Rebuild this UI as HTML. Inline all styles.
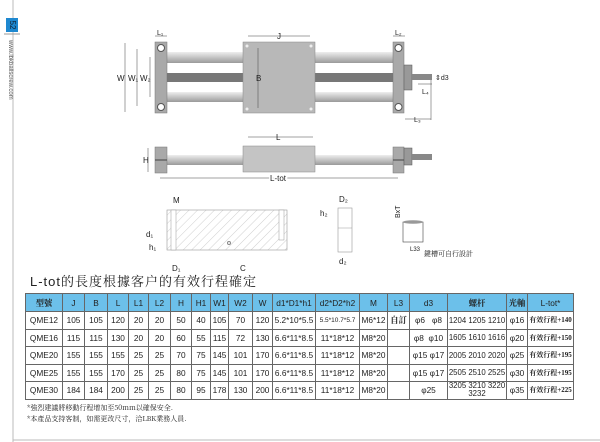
<!DOCTYPE html>
<html><head><meta charset="utf-8"><style>
body{margin:0;width:600px;height:442px;background:#fff;position:relative;overflow:hidden;font-family:"Liberation Sans","Noto Sans CJK TC",sans-serif}
table{position:absolute;left:25px;top:293px;border-collapse:collapse;table-layout:fixed;width:548px;font-size:8.3px;color:#222}
td,th{border:1px solid #666;text-align:center;padding:0;white-space:nowrap;overflow:hidden}
th{background:#6cc0ea;height:17px;font-weight:normal}
td{height:16.5px}
.cn{font-family:"Liberation Serif","Noto Serif CJK SC",serif;font-weight:bold}
</style></head><body>
<svg width="600" height="442" style="position:absolute;left:0;top:0" font-family="Liberation Sans, sans-serif">
<defs>
<linearGradient id="rail" x1="0" y1="0" x2="0" y2="1"><stop offset="0" stop-color="#eeeeee"/><stop offset=".5" stop-color="#c4c4c4"/><stop offset="1" stop-color="#9a9a9a"/></linearGradient>
<pattern id="hat" width="6" height="6" patternUnits="userSpaceOnUse" patternTransform="rotate(45)"><line x1="0" y1="0" x2="0" y2="6" stroke="#bbb" stroke-width="0.7"/></pattern>
</defs>
<line x1="13" y1="0" x2="13" y2="442" stroke="#bbb"/>
<line x1="13" y1="440" x2="600" y2="440" stroke="#bbb"/>
<rect x="6" y="18" width="12" height="14" fill="#1e88d0"/>
<text x="12" y="25" font-size="8" fill="#123" text-anchor="middle" transform="rotate(90 12 25)" dominant-baseline="middle">52</text>
<line x1="4" y1="34" x2="20" y2="34" stroke="#999"/>
<text x="9" y="40" font-size="6" fill="#555" transform="rotate(90 9 40)">www.lbkballscrew.com</text>
<rect x="167" y="52" width="226" height="11" fill="url(#rail)"/>
<rect x="167" y="92" width="226" height="10" fill="url(#rail)"/>
<rect x="167" y="73" width="226" height="9" fill="#777"/>
<rect x="155" y="42" width="12" height="71" fill="#a9a9a9" stroke="#777" stroke-width=".5"/>
<rect x="393" y="42" width="11" height="71" fill="#a9a9a9" stroke="#777" stroke-width=".5"/>
<circle cx="161" cy="48" r="3.5" fill="#fff" stroke="#555"/><circle cx="161" cy="107" r="3.5" fill="#fff" stroke="#555"/>
<circle cx="398.5" cy="48" r="3.5" fill="#fff" stroke="#555"/><circle cx="398.5" cy="107" r="3.5" fill="#fff" stroke="#555"/>
<rect x="243" y="42" width="72" height="71" fill="#b8b8b8" stroke="#888" stroke-width=".5"/>
<circle cx="247" cy="46" r="1.5" fill="#eee"/><circle cx="311" cy="46" r="1.5" fill="#eee"/><circle cx="247" cy="109" r="1.5" fill="#eee"/><circle cx="311" cy="109" r="1.5" fill="#eee"/>
<rect x="404" y="65" width="8" height="25" fill="#999" stroke="#555" stroke-width=".5"/>
<rect x="412" y="74" width="20" height="6" fill="#888"/>
<g stroke="#444" stroke-width=".5" fill="none">
<line x1="125" y1="43" x2="125" y2="112"/><line x1="137" y1="49" x2="137" y2="106"/><line x1="150" y1="57" x2="150" y2="97"/>
<line x1="248" y1="36" x2="310" y2="36"/><line x1="258" y1="48" x2="258" y2="108"/>
<line x1="155" y1="36" x2="167" y2="36"/><line x1="393" y1="36" x2="405" y2="36"/>
<line x1="405" y1="119" x2="431" y2="119"/><line x1="431" y1="80" x2="431" y2="120"/>
<line x1="418" y1="84" x2="432" y2="84"/>
<line x1="248" y1="137" x2="313" y2="137"/>
<line x1="160" y1="178" x2="398" y2="178"/>
<line x1="148" y1="148" x2="148" y2="172"/>
</g>
<g font-size="8" fill="#222">
<text x="117" y="81">W</text><text x="128" y="81">W₁</text><text x="140" y="81">W₂</text>
<text x="277" y="39">J</text><text x="256" y="81">B</text>
<text x="157" y="35" font-size="7">L₁</text><text x="395" y="35" font-size="7">L₂</text>
<text x="435" y="80" font-size="7">⇕d3</text><text x="422" y="94" font-size="7">L₄</text><text x="414" y="122" font-size="7">L₃</text>
<text x="276" y="140">L</text><text x="270" y="181" style="paint-order:stroke" stroke="#fff" stroke-width="3">L-tot</text>
<text x="143" y="163">H</text>
</g>
<rect x="167" y="155" width="226" height="10" fill="url(#rail)"/>
<rect x="155" y="147" width="12" height="26" fill="#a9a9a9" stroke="#777" stroke-width=".5"/>
<line x1="155" y1="160" x2="167" y2="160" stroke="#444"/>
<rect x="393" y="147" width="11" height="26" fill="#a9a9a9" stroke="#777" stroke-width=".5"/>
<line x1="393" y1="160" x2="404" y2="160" stroke="#444"/>
<rect x="404" y="148" width="8" height="17" fill="#999" stroke="#555" stroke-width=".5"/>
<rect x="412" y="154" width="20" height="6" fill="#888"/>
<rect x="243" y="146" width="72" height="26" fill="#c4c4c4" stroke="#888" stroke-width=".5"/>
<rect x="167" y="210" width="120" height="40" fill="url(#hat)" stroke="#999" stroke-width=".6"/>
<rect x="171" y="210" width="5" height="40" fill="#fff" stroke="#999" stroke-width=".5"/>
<rect x="279" y="210" width="5" height="30" fill="#fff" stroke="#999" stroke-width=".5"/>
<circle cx="229" cy="243" r="1.5" fill="none" stroke="#888"/>
<rect x="338" y="208" width="14" height="44" fill="#fff" stroke="#999" stroke-width=".6"/>
<line x1="338" y1="228" x2="352" y2="228" stroke="#999" stroke-width=".5"/>
<rect x="403" y="222" width="20" height="20" fill="#fff" stroke="#444" stroke-width=".6"/>
<ellipse cx="413" cy="222" rx="10" ry="1.8" fill="#999"/>
<g font-size="8" fill="#222">
<text x="173" y="203">M</text><text x="146" y="237">d₁</text><text x="149" y="250">h₁</text><text x="172" y="271">D₁</text><text x="240" y="271">C</text>
<text x="339" y="202">D₂</text><text x="320" y="216">h₂</text><text x="339" y="264">d₂</text>
<text x="400" y="218" font-size="7" transform="rotate(-90 400 218)">BxT</text><text x="410" y="251" font-size="6">L33</text>
<text x="424" y="256" font-size="7" font-family="Noto Serif CJK SC, serif">鍵槽可自行設計</text>
</g>
<text x="30" y="286" font-size="13" fill="#222" font-family="Liberation Sans, Noto Serif CJK SC, serif" letter-spacing="1">L-tot的長度根據客户的有效行程確定</text>
<text x="27" y="410" font-size="7" fill="#222" font-family="Noto Serif CJK SC, serif">*強烈建議將移動行程增加至50mm以確保安全.</text>
<text x="27" y="421" font-size="7" fill="#222" font-family="Noto Serif CJK SC, serif">*本產品支持客制，如需更改尺寸，洽LBK業務人員.</text>
</svg>
<table>
<colgroup><col style="width:37px"><col style="width:22px"><col style="width:23px"><col style="width:21px"><col style="width:20px"><col style="width:22px"><col style="width:21px"><col style="width:19px"><col style="width:18px"><col style="width:24px"><col style="width:20px"><col style="width:43px"><col style="width:44px"><col style="width:28px"><col style="width:22px"><col style="width:38px"><col style="width:59px"><col style="width:21px"><col style="width:46px"></colgroup>
<tr><th class="cn">型號</th><th>J</th><th>B</th><th>L</th><th>L1</th><th>L2</th><th>H</th><th>H1</th><th>W1</th><th>W2</th><th>W</th><th>d1*D1*h1</th><th>d2*D2*h2</th><th>M</th><th>L3</th><th>d3</th><th class="cn">螺杆</th><th class="cn">光軸</th><th>L-tot*</th></tr>
<tr><td>QME12</td><td>105</td><td>105</td><td>120</td><td>20</td><td>20</td><td>50</td><td>40</td><td>105</td><td>70</td><td>120</td><td>5.2*10*5.5</td><td style="font-size:6.5px">5.5*10.7*5.7</td><td>M6*12</td><td class="cn">自訂</td><td>φ6 &nbsp; φ8</td><td style="font-size:7.8px">1204 1205 1210</td><td>φ16</td><td class="cn" style="font-size:7px">有效行程+140</td></tr>
<tr><td>QME16</td><td>115</td><td>115</td><td>130</td><td>20</td><td>20</td><td>60</td><td>55</td><td>115</td><td>72</td><td>130</td><td>6.6*11*8.5</td><td>11*18*12</td><td>M8*20</td><td></td><td>φ8 &nbsp;φ10</td><td style="font-size:7.8px">1605 1610 1616</td><td>φ20</td><td class="cn" style="font-size:7px">有效行程+150</td></tr>
<tr><td>QME20</td><td>155</td><td>155</td><td>155</td><td>25</td><td>25</td><td>70</td><td>75</td><td>145</td><td>101</td><td>170</td><td>6.6*11*8.5</td><td>11*18*12</td><td>M8*20</td><td></td><td>φ15 φ17</td><td style="font-size:7.8px">2005 2010 2020</td><td>φ25</td><td class="cn" style="font-size:7px">有效行程+195</td></tr>
<tr><td>QME25</td><td>155</td><td>155</td><td>170</td><td>25</td><td>25</td><td>80</td><td>75</td><td>145</td><td>101</td><td>170</td><td>6.6*11*8.5</td><td>11*18*12</td><td>M8*20</td><td></td><td>φ15 φ17</td><td style="font-size:7.8px">2505 2510 2525</td><td>φ30</td><td class="cn" style="font-size:7px">有效行程+195</td></tr>
<tr><td>QME30</td><td>184</td><td>184</td><td>200</td><td>25</td><td>25</td><td>80</td><td>95</td><td>178</td><td>130</td><td>200</td><td>6.6*11*8.5</td><td>11*18*12</td><td>M8*20</td><td></td><td>φ25</td><td style="line-height:8px;font-size:7.8px">3205 3210 3220<br>3232</td><td>φ35</td><td class="cn" style="font-size:7px">有效行程+225</td></tr>
</table>
</body></html>
